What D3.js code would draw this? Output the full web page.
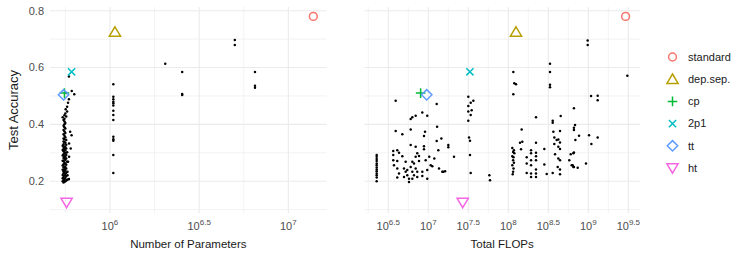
<!DOCTYPE html>
<html>
<head>
<meta charset="utf-8">
<script src="https://cdn.jsdelivr.net/npm/d3@7"></script>
<style>
body { margin:0; background:#fff; }
text { font-family: "Liberation Sans", Arial, sans-serif; }
</style>
</head>
<body>
<svg id="chart" width="747" height="280"></svg>
<script>
// model variants (coloured symbols)
var variantNames = ["standard", "dep.sep.", "cp", "2p1", "tt", "ht"];
var variantColors = ["#F8766D", "#B79F00", "#00BA38", "#00BFC4", "#619CFF", "#F564E3"];
var variantAcc = [0.78, 0.725, 0.51, 0.585, 0.504, 0.125];
var variantParamsExp = [7.14, 6.028, 5.745, 5.785, 5.74, 5.757];	// log10(#params)
var variantFlopsExp = [9.466, 8.096, 6.904, 7.52, 6.98, 7.43];	// log10(FLOPs)

// tick labels
var accTicks = [0.2, 0.4, 0.6, 0.8];
var paramsTicks = [6, 6.5, 7];
var flopsTicks = [6.5, 7, 7.5, 8, 8.5, 9, 9.5];

// other searched models, [log10(#params), accuracy]
var paramsDots = [
	[5.74,0.195],[5.745,0.198],[5.735,0.2],[5.75,0.2],[5.755,0.202],[5.74,0.204],[5.76,0.205],[5.745,0.207],
	[5.77,0.208],[5.735,0.21],[5.75,0.212],[5.74,0.215],[5.755,0.218],[5.745,0.22],[5.735,0.222],[5.75,0.225],
	[5.74,0.228],[5.755,0.23],[5.745,0.232],[5.74,0.235],[5.75,0.238],[5.735,0.24],[5.745,0.242],[5.755,0.245],
	[5.74,0.248],[5.75,0.25],[5.745,0.252],[5.735,0.255],[5.755,0.258],[5.74,0.26],[5.75,0.262],[5.745,0.265],
	[5.76,0.268],[5.74,0.27],[5.735,0.272],[5.75,0.275],[5.745,0.278],[5.755,0.28],[5.74,0.282],[5.75,0.285],
	[5.745,0.288],[5.735,0.29],[5.755,0.292],[5.74,0.295],[5.75,0.298],[5.745,0.3],[5.76,0.302],[5.74,0.305],
	[5.75,0.308],[5.735,0.31],[5.745,0.312],[5.755,0.315],[5.74,0.318],[5.75,0.32],[5.745,0.322],[5.735,0.325],
	[5.755,0.328],[5.74,0.33],[5.75,0.335],[5.745,0.338],[5.74,0.34],[5.755,0.345],[5.745,0.348],[5.74,0.35],
	[5.75,0.355],[5.745,0.36],[5.74,0.365],[5.75,0.37],[5.745,0.375],[5.74,0.38],[5.75,0.385],[5.745,0.39],
	[5.74,0.395],[5.745,0.4],[5.75,0.405],[5.745,0.41],[5.74,0.415],[5.745,0.42],[5.735,0.425],[5.755,0.428],
	[5.745,0.432],[5.75,0.438],
	[5.76,0.445],[5.752,0.453],[5.76,0.462],[5.765,0.476],[5.77,0.488],[5.786,0.517],[5.80,0.506],[5.77,0.568],
	[5.757,0.51],[5.777,0.374],[5.785,0.362],[5.771,0.333],[5.78,0.315],[5.771,0.286],[5.765,0.268],[5.762,0.233],
	[5.762,0.221],[5.768,0.207],
	[6.019,0.541],[6.019,0.4975],[6.019,0.488],[6.019,0.48],[6.019,0.474],[6.019,0.466],[6.019,0.448],
	[6.019,0.433],[6.019,0.415],[6.019,0.356],[6.019,0.348],[6.019,0.342],[6.019,0.292],[6.019,0.229],
	[6.31,0.613],[6.405,0.584],[6.405,0.507],[6.405,0.503],[6.70,0.697],[6.70,0.679],
	[6.813,0.584],[6.813,0.536],[6.813,0.529]
];

// same models, [log10(FLOPs), accuracy]
var flopsDots = [
	[6.355,0.292],[6.355,0.286],[6.355,0.278],[6.355,0.271],[6.355,0.262],[6.355,0.256],[6.355,0.248],
	[6.355,0.241],[6.355,0.235],[6.355,0.227],[6.355,0.221],[6.355,0.213],[6.355,0.2],
	[6.592,0.483],[6.925,0.442],[6.987,0.43],[6.842,0.43],[6.80,0.425],[6.78,0.419],[7.105,0.472],
	[6.592,0.377],[6.675,0.365],[6.78,0.382],[6.959,0.374],[6.946,0.359],[7.105,0.341],[7.163,0.35],
	[6.78,0.327],[6.842,0.321],[6.946,0.323],[6.946,0.312],[6.562,0.306],[6.612,0.309],[6.634,0.3],
	[6.562,0.292],[6.675,0.288],[6.862,0.298],[6.842,0.286],[6.884,0.289],[7.012,0.286],[7.075,0.28],
	[6.562,0.274],[6.612,0.271],[6.717,0.268],[6.80,0.268],[6.884,0.271],[6.967,0.274],[7.03,0.256],
	[7.134,0.245],[7.175,0.233],[6.571,0.256],[6.612,0.245],[6.634,0.227],[6.612,0.213],[6.696,0.245],
	[6.717,0.233],[6.737,0.221],[6.759,0.209],[6.737,0.239],[6.78,0.25],[6.80,0.233],[6.821,0.221],
	[6.759,0.197],[6.842,0.245],[6.862,0.233],[6.862,0.215],[6.925,0.233],[6.925,0.218],[6.987,0.209],
	[6.987,0.239],[7.05,0.253],[6.696,0.215],[6.80,0.209],[6.821,0.262],[7.11,0.392],[7.125,0.309],
	[7.188,0.233],[7.21,0.235],[7.25,0.327],[7.25,0.319],[7.321,0.286],
	[7.50,0.4975],[7.53,0.476],[7.563,0.483],[7.50,0.465],[7.542,0.45],[7.50,0.445],[7.53,0.433],
	[7.50,0.413],[7.509,0.354],[7.521,0.342],[7.521,0.292],[7.53,0.229],[7.763,0.221],[7.771,0.203],
	[8.0625,0.584],[8.075,0.545],[8.096,0.541],[8.0625,0.506],
	[8.05,0.317],[8.07,0.309],[8.06,0.303],[8.075,0.298],[8.05,0.288],[8.065,0.284],[8.06,0.274],
	[8.07,0.265],[8.05,0.256],[8.065,0.245],[8.06,0.233],[8.055,0.224],
	[8.521,0.613],[8.521,0.584],[8.521,0.539],[8.521,0.531],[8.346,0.425],[8.167,0.382],[8.655,0.429],
	[8.82,0.457],[8.555,0.413],[8.555,0.406],[8.563,0.374],[8.646,0.377],[8.146,0.335],[8.175,0.339],
	[8.159,0.312],[8.346,0.335],[8.346,0.3],[8.23,0.284],[8.284,0.309],[8.284,0.298],[8.284,0.274],
	[8.284,0.256],[8.23,0.262],[8.23,0.229],[8.284,0.227],[8.284,0.215],[8.346,0.288],[8.346,0.274],
	[8.346,0.241],[8.346,0.227],[8.346,0.215],[8.45,0.313],[8.45,0.259],[8.48,0.225],[8.555,0.229],
	[8.575,0.354],[8.605,0.345],[8.625,0.347],[8.646,0.336],[8.575,0.331],[8.625,0.321],[8.646,0.313],
	[8.584,0.295],[8.625,0.28],[8.646,0.274],[8.617,0.25],[8.646,0.241],[8.646,0.224],[8.762,0.274],
	[8.78,0.295],[8.813,0.298],[8.792,0.256],[8.813,0.25],[8.82,0.38],[8.82,0.388],
	[8.992,0.695],[8.992,0.679],[9.488,0.571],[9.034,0.5],[9.117,0.501],[9.117,0.485],[8.834,0.398],
	[8.838,0.345],[8.884,0.36],[9.009,0.362],[9.117,0.354],[9.038,0.331],[8.82,0.301],[8.805,0.256],
	[8.82,0.25],[8.867,0.247],[8.971,0.262]
];

var svg = d3.select("#chart");
var gridColor = "#EBEBEB";

var y = d3.scaleLinear().domain([0.087, 0.813]).range([213.3, 7]);

var shapes = {
	"standard": d3.symbol().type(d3.symbolCircle).size(48)(),
	"dep.sep.": "M0,-5.2L5.6,4.2L-5.6,4.2Z",
	"cp": "M-4.8,0H4.8M0,-4.8V4.8",
	"2p1": "M-3.6,-3.6L3.6,3.6M-3.6,3.6L3.6,-3.6",
	"tt": "M0,-5.2L5.2,0L0,5.2L-5.2,0Z",
	"ht": "M0,5.2L5.6,-4.2L-5.6,-4.2Z"
};

function pow10(e) {
	return Math.pow(10, e);
}

function drawPanel(opt) {
	var x = d3.scaleLog().domain([pow10(opt.lo), pow10(opt.hi)]).range([opt.left, opt.right]);
	var g = svg.append("g");
	var top = y.range()[1], bottom = y.range()[0];

	// minor grid
	var minorsX = [];
	for(var i=0; i<opt.ticks.length; i++) {
		minorsX.push(opt.ticks[i] - 0.25);
	}
	minorsX.push(opt.ticks[opt.ticks.length-1] + 0.25);
	minorsX = minorsX.filter(function(e) { return e > opt.lo && e < opt.hi; });
	g.selectAll(".minx").data(minorsX).enter().append("line")
		.attr("x1", function(d) { return x(pow10(d)); })
		.attr("x2", function(d) { return x(pow10(d)); })
		.attr("y1", top).attr("y2", bottom)
		.attr("stroke", gridColor).attr("stroke-width", 0.6);
	var minorsY = [0.1, 0.3, 0.5, 0.7];
	g.selectAll(".miny").data(minorsY).enter().append("line")
		.attr("x1", opt.left).attr("x2", opt.right)
		.attr("y1", function(d) { return y(d); })
		.attr("y2", function(d) { return y(d); })
		.attr("stroke", gridColor).attr("stroke-width", 0.6);

	// major grid
	g.selectAll(".majx").data(opt.ticks).enter().append("line")
		.attr("x1", function(d) { return x(pow10(d)); })
		.attr("x2", function(d) { return x(pow10(d)); })
		.attr("y1", top).attr("y2", bottom)
		.attr("stroke", gridColor).attr("stroke-width", 1.1);
	g.selectAll(".majy").data(accTicks).enter().append("line")
		.attr("x1", opt.left).attr("x2", opt.right)
		.attr("y1", function(d) { return y(d); })
		.attr("y2", function(d) { return y(d); })
		.attr("stroke", gridColor).attr("stroke-width", 1.1);

	// x tick labels as 10^e
	var lab = g.selectAll(".xlab").data(opt.ticks).enter().append("text")
		.attr("x", function(d) { return x(pow10(d)); })
		.attr("y", 230)
		.attr("text-anchor", "middle")
		.attr("fill", "#4D4D4D")
		.style("font-size", "11px");
	lab.append("tspan").text("10");
	lab.append("tspan")
		.attr("dy", -5.5)
		.style("font-size", "8px")
		.text(function(d) { return d; });

	// axis title
	g.append("text")
		.attr("x", (opt.left + opt.right) / 2)
		.attr("y", 248)
		.attr("text-anchor", "middle")
		.attr("fill", "#1a1a1a")
		.style("font-size", "11.5px")
		.text(opt.title);

	// points
	g.selectAll(".dot").data(opt.dots).enter().append("circle")
		.attr("cx", function(d) { return x(pow10(d[0])); })
		.attr("cy", function(d) { return y(d[1]); })
		.attr("r", 1.25)
		.attr("fill", "#000");

	// variants
	g.selectAll(".variant").data(variantNames).enter().append("path")
		.attr("d", function(d) { return shapes[d]; })
		.attr("transform", function(d, i) {
			return "translate(" + x(pow10(opt.exps[i])) + "," + y(variantAcc[i]) + ")";
		})
		.attr("fill", "none")
		.attr("stroke", function(d, i) { return variantColors[i]; })
		.attr("stroke-width", 1.5);
}

drawPanel({
	left: 50, right: 326.7, lo: 5.664, hi: 7.215,
	ticks: paramsTicks, dots: paramsDots, exps: variantParamsExp,
	title: "Number of Parameters"
});
drawPanel({
	left: 364.3, right: 640, lo: 6.2, hi: 9.646,
	ticks: flopsTicks, dots: flopsDots, exps: variantFlopsExp,
	title: "Total FLOPs"
});

// y axis labels (left panel only)
svg.selectAll(".ylab").data(accTicks).enter().append("text")
	.attr("x", 44)
	.attr("y", function(d) { return y(d); })
	.attr("dy", "0.35em")
	.attr("text-anchor", "end")
	.attr("fill", "#4D4D4D")
	.style("font-size", "11px")
	.text(function(d) { return d3.format(".1f")(d); });

svg.append("text")
	.attr("transform", "translate(18,110) rotate(-90)")
	.attr("text-anchor", "middle")
	.attr("fill", "#1a1a1a")
	.style("font-size", "13px")
	.text("Test Accuracy");

// legend
var legend = svg.selectAll(".legend").data(variantNames).enter().append("g")
	.attr("transform", function(d, i) { return "translate(672.5," + (57 + i * 22.2) + ")"; });
legend.append("path")
	.attr("d", function(d) { return shapes[d]; })
	.attr("fill", "none")
	.attr("stroke", function(d, i) { return variantColors[i]; })
	.attr("stroke-width", 1.5);
legend.append("text")
	.attr("x", 15.5)
	.attr("dy", "0.35em")
	.attr("fill", "#1a1a1a")
	.style("font-size", "11px")
	.text(function(d) { return d; });
</script>
</body>
</html>
